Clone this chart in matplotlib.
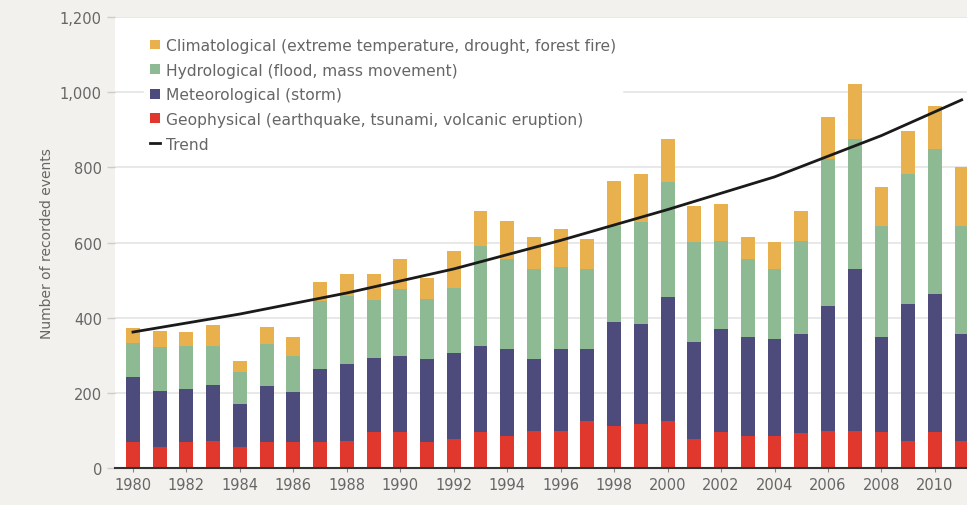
import numpy as np
import matplotlib
matplotlib.use("Agg")
import matplotlib.pyplot as plt
from matplotlib.ticker import FuncFormatter

years = np.arange(1980, 2012)

# cumulative tops, turned into layer sizes below
geo = [69, 56, 69, 72, 56, 69, 69, 69, 72, 96, 96, 69, 78, 96, 85, 98,
       98, 125, 112, 118, 125, 77, 96, 85, 85, 93, 98, 98, 96, 72, 96, 72]
met_top = [242, 205, 210, 220, 170, 218, 202, 263, 277, 293, 298, 290, 305, 325, 317, 290,
           317, 317, 388, 383, 455, 335, 370, 348, 343, 356, 431, 529, 348, 436, 463, 356]
hyd_top = [332, 322, 325, 325, 255, 330, 298, 444, 458, 448, 476, 450, 480, 590, 556, 529,
           535, 529, 644, 654, 761, 601, 604, 556, 529, 604, 822, 875, 644, 782, 849, 644]
total = [372, 365, 362, 380, 285, 375, 348, 495, 516, 516, 556, 505, 578, 684, 657, 614,
         636, 609, 763, 782, 875, 697, 702, 614, 601, 684, 934, 1021, 747, 896, 963, 801]

trend_years = [1980, 1984, 1988, 1992, 1996, 2000, 2004, 2008, 2011]
trend_vals = [362, 410, 466, 530, 606, 688, 775, 885, 980]

geo = np.array(geo)
met = np.array(met_top) - geo
hyd = np.array(hyd_top) - np.array(met_top)
cli = np.array(total) - np.array(hyd_top)

c_cli = "#e9b04e"
c_hyd = "#8dba92"
c_met = "#4d4a7c"
c_geo = "#e0382c"
txt = "#666666"

fig = plt.figure(figsize=(9.67, 5.06), dpi=100, facecolor="#f3f1ed")
ax = fig.add_axes([0.119, 0.073, 0.881, 0.891])
ax.set_facecolor("white")

w = 0.52
b1 = ax.bar(years, geo, w, color=c_geo, zorder=2)
b2 = ax.bar(years, met, w, bottom=geo, color=c_met, zorder=2)
b3 = ax.bar(years, hyd, w, bottom=geo + met, color=c_hyd, zorder=2)
b4 = ax.bar(years, cli, w, bottom=geo + met + hyd, color=c_cli, zorder=2)
tr, = ax.plot(trend_years, trend_vals, color="#1a1a1a", lw=2, zorder=3)

ax.set_xlim(1979.33, 2011.2)
ax.set_ylim(0, 1200)
ax.set_yticks(np.arange(0, 1201, 200))
ax.yaxis.set_major_formatter(FuncFormatter(lambda v, p: f"{int(v):,}"))
ax.set_xticks(np.arange(1980, 2011, 2))
ax.grid(axis="y", color="#e4e4e4", lw=1.2, zorder=0)

for s in ["top", "right", "left"]:
    ax.spines[s].set_visible(False)
ax.spines["bottom"].set_color("#333333")
ax.spines["bottom"].set_linewidth(1.5)
ax.tick_params(axis="y", colors="#cccccc", labelcolor=txt, labelsize=10.5, length=6, width=1)
ax.tick_params(axis="x", colors="#888888", labelcolor=txt, labelsize=10.5, length=3)

ax.set_ylabel("Number of recorded events", color=txt, fontsize=10, labelpad=4)

leg = ax.legend([b4, b3, b2, b1, tr],
                ["Climatological (extreme temperature, drought, forest fire)",
                 "Hydrological (flood, mass movement)",
                 "Meteorological (storm)",
                 "Geophysical (earthquake, tsunami, volcanic eruption)",
                 "Trend"],
                loc="upper left", bbox_to_anchor=(0.025, 0.985), frameon=True,
                fontsize=11.2, handlelength=0.6, handleheight=0.6, handletextpad=0.4,
                labelspacing=0.62, borderpad=0.4)
leg.get_frame().set_facecolor("white")
leg.get_frame().set_edgecolor("white")
leg.get_frame().set_alpha(1)
for t in leg.get_texts():
    t.set_color(txt)

fig.savefig("out.png", dpi=100, facecolor=fig.get_facecolor())
